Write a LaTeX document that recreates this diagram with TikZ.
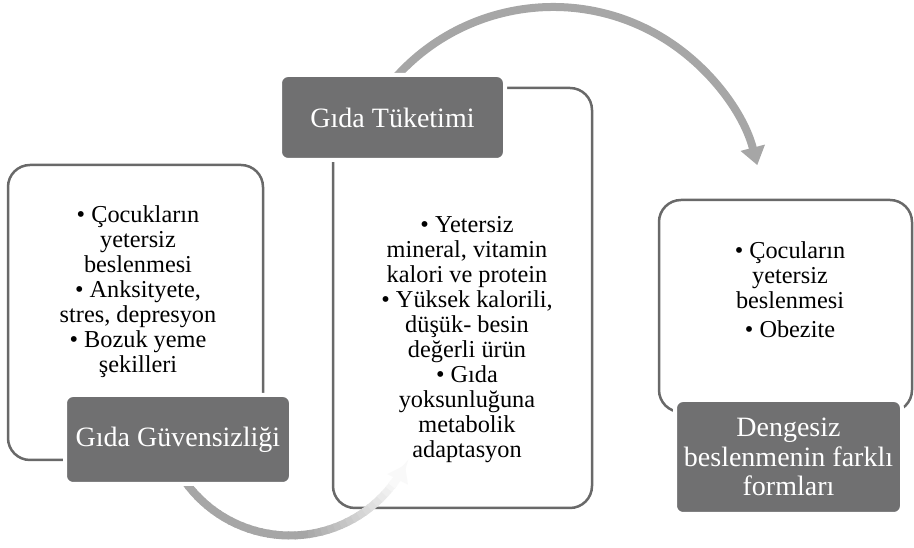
\documentclass[tikz,border=0pt]{standalone}
\usepackage{fontspec}
\setmainfont{Liberation Serif}
\usetikzlibrary{arrows.meta,calc}
\definecolor{boxline}{RGB}{105,105,105}
\definecolor{darkfill}{RGB}{112,112,113}
\definecolor{arcgray}{RGB}{166,166,166}
\begin{document}
\begin{tikzpicture}[x=1pt,y=1pt,
  outerbox/.style={draw=boxline, line width=2.5pt, rounded corners=22pt, fill=white, inner sep=0pt},
  titlebox/.style={fill=darkfill, draw=white, line width=4pt, rounded corners=8pt, text=white,
    font=\fontsize{28}{29.5}\selectfont, align=center, inner sep=0pt},
  bullettext/.style={font=\fontsize{24.3}{25}\selectfont, align=center, inner sep=0pt, text=black},
  flowarc/.style={line width=8pt, draw=arcgray}]
\useasboundingbox (0,0) rectangle (914,548);
% white content boxes
\node[outerbox, minimum width=255pt, minimum height=295pt] (lbox) at (135.5,235.5) {};
\node[outerbox, minimum width=259pt, minimum height=420pt] (mbox) at (462.5,250) {};
\node[outerbox, minimum width=253pt, minimum height=212pt] (rbox) at (785.5,242) {};
% arc centres
\coordinate (tc) at (553,330);
\coordinate (bc) at (290,141.5);
% top arc
\draw[flowarc, -{Triangle[width=24pt,length=18pt]}]
  ($(tc)+(146:211pt)$) arc[start angle=146, end angle=14.5, radius=211pt];
% bottom arc with fading
\foreach \a in {200,203,...,320}{
  \pgfmathsetmacro\p{\a<275 ? 100 : 100-(\a-275)*1.95}
  \pgfmathsetmacro\b{\a+3.6}
  \draw[line width=8pt, draw=arcgray!\p!white]
    ($(bc)+(\a:129pt)$) arc[start angle=\a, end angle=\b, radius=129pt];
}
\draw[line width=8pt, draw=arcgray!7!white, -{Triangle[width=22pt,length=16pt]}]
  ($(bc)+(322:129pt)$) arc[start angle=322, end angle=333, radius=129pt];
% texts
\node[bullettext] (ltext) at (138,256) {• Çocukların\\yetersiz\\beslenmesi\\• Anksityete,\\stres, depresyon\\• Bozuk yeme\\şekilleri};
\node[bullettext] (mtext) at (467,208) {• Yetersiz\\mineral, vitamin\\kalori ve protein\\• Yüksek kalorili,\\düşük- besin\\değerli ürün\\• Gıda\\yoksunluğuna\\metabolik\\adaptasyon};
\node[bullettext] (rtext) at (790,258) {• Çocuların\\yetersiz\\beslenmesi\\[4pt]• Obezite};
% title boxes
\node[titlebox, minimum width=226pt, minimum height=89pt] (gg) at (178,108.5) {Gıda Güvensizliği};
\node[titlebox, minimum width=225pt, minimum height=85pt] (gt) at (392.5,430.5) {Gıda Tüketimi};
\node[titlebox, minimum width=227pt, minimum height=114pt] (dn) at (788.5,91) {Dengesiz\\beslenmenin farklı\\formları};
\end{tikzpicture}
\end{document}
